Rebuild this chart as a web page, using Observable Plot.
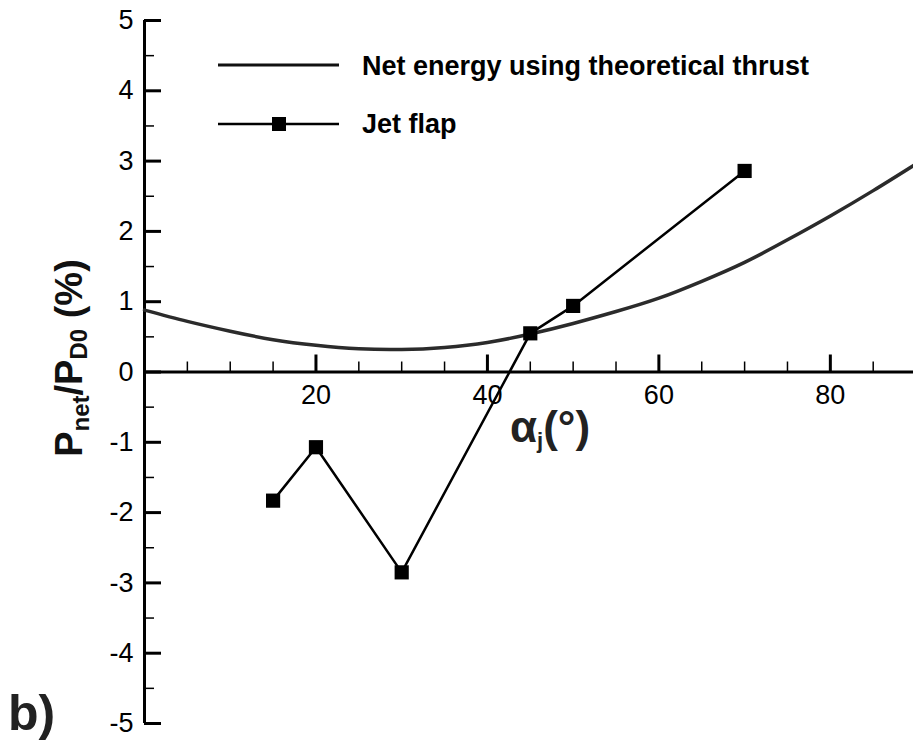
<!DOCTYPE html>
<html>
<head>
<meta charset="utf-8">
<script src="https://cdn.jsdelivr.net/npm/d3@7"></script>
<script src="https://cdn.jsdelivr.net/npm/@observablehq/plot@0.6"></script>
<style>
  html, body { margin: 0; padding: 0; background: #fff; }
  #chart svg { display: block; }
</style>
</head>
<body>
<div id="chart"></div>
<script>
// Theoretical net energy curve (alpha_j in degrees, Pnet/PD0 in %)
const theoryAlpha = [0, 5, 10, 15, 20, 25, 30, 35, 40, 45, 50, 55, 60, 65, 70, 75, 80, 85, 90];
const theoryValue = [0.88, 0.72, 0.58, 0.46, 0.38, 0.33, 0.32, 0.35, 0.42, 0.54, 0.69, 0.86, 1.05, 1.29, 1.56, 1.88, 2.22, 2.58, 2.96];

// Jet flap measured points
const jetAlpha = [15, 20, 30, 45, 50, 70];
const jetValue = [-1.83, -1.07, -2.85, 0.55, 0.94, 2.86];

// Ticks
const xMajorTicks = [20, 40, 60, 80];
const xMinorTicks = [5, 10, 15, 25, 30, 35, 45, 50, 55, 65, 70, 75, 85];
const yMajorTicks = [-5, -4, -3, -2, -1, 0, 1, 2, 3, 4, 5];
const yMinorTicks = [-4.5, -3.5, -2.5, -1.5, -0.5, 0.5, 1.5, 2.5, 3.5, 4.5];

const legendLabels = ["Net energy using theoretical thrust", "Jet flap"];

const theory = theoryAlpha.map((a, i) => ({a, v: theoryValue[i]}));
const jet = jetAlpha.map((a, i) => ({a, v: jetValue[i]}));

const FONT = "'Liberation Sans', Arial, Helvetica, sans-serif";

const plot = Plot.plot({
  width: 913,
  height: 746,
  marginLeft: 144,
  marginRight: 0,
  marginTop: 20,
  marginBottom: 23,
  style: {fontFamily: FONT, background: "#fff", overflow: "hidden"},
  x: {domain: [0, 89.7], axis: null},
  y: {domain: [-5, 5], axis: null},
  marks: [
    // axes lines
    Plot.ruleY([0], {stroke: "#000", strokeWidth: 3}),
    Plot.ruleX([0], {stroke: "#000", strokeWidth: 3}),
    // x ticks (pointing up from y = 0)
    Plot.ruleX(xMajorTicks, {x: d => d, y1: 0, y2: 0, insetTop: -17, stroke: "#000", strokeWidth: 3}),
    Plot.ruleX(xMinorTicks, {x: d => d, y1: 0, y2: 0, insetTop: -10, stroke: "#000", strokeWidth: 1.5}),
    // y ticks (pointing right from x = 0)
    Plot.ruleY(yMajorTicks, {y: d => d, x1: 0, x2: 0, insetRight: -17, stroke: "#000", strokeWidth: 3}),
    Plot.ruleY(yMinorTicks, {y: d => d, x1: 0, x2: 0, insetRight: -10, stroke: "#000", strokeWidth: 1.5}),
    // tick labels
    Plot.text(xMajorTicks, {x: d => d, y: 0, dy: 23, text: d => String(d), fontSize: 27, fill: "#000", fontFamily: FONT}),
    Plot.text(yMajorTicks, {x: 0, y: d => d, dx: -11, textAnchor: "end", text: d => String(d), fontSize: 27, fill: "#000", fontFamily: FONT}),
    // theoretical curve
    Plot.line(theory, {x: "a", y: "v", stroke: "#2b2b2b", strokeWidth: 3.5, curve: "natural"}),
    // jet flap
    Plot.line(jet, {x: "a", y: "v", stroke: "#000", strokeWidth: 2.5}),
    Plot.dot(jet, {x: "a", y: "v", symbol: "square", r: 8, fill: "#000", stroke: "none"})
  ]
});

document.getElementById("chart").appendChild(plot);

// Additional labels and legend
const svg = d3.select(plot);

// Legend
const leg = svg.append("g").attr("font-family", FONT).attr("text-anchor", "start");
leg.append("line").attr("x1", 218).attr("x2", 339).attr("y1", 65).attr("y2", 65)
  .attr("stroke", "#111").attr("stroke-width", 3);
leg.append("text").attr("x", 362).attr("y", 75).attr("font-size", 27).attr("font-weight", "bold")
  .attr("fill", "#000").text(legendLabels[0]);
leg.append("line").attr("x1", 218).attr("x2", 339).attr("y1", 124).attr("y2", 124)
  .attr("stroke", "#000").attr("stroke-width", 2.5);
leg.append("path").attr("d", d3.symbol(d3.symbolSquare, 196)()).attr("transform", "translate(279,124)")
  .attr("fill", "#000");
leg.append("text").attr("x", 362).attr("y", 133).attr("font-size", 27).attr("font-weight", "bold")
  .attr("fill", "#000").text(legendLabels[1]);

// x axis title: alpha_j (°)
const xt = svg.append("text").attr("x", 510).attr("y", 442).attr("font-family", FONT)
  .attr("text-anchor", "start")
  .attr("font-size", 44).attr("font-weight", "bold").attr("fill", "#222");
xt.append("tspan").text("α");
xt.append("tspan").attr("font-size", 22).attr("dy", 6).text("j");
xt.append("tspan").attr("dy", -6).text("(°)");

// y axis title: P_net / P_D0 (%)
const yt = svg.append("text").attr("transform", "translate(82,358) rotate(-90)")
  .attr("text-anchor", "middle").attr("font-family", FONT)
  .attr("font-size", 38).attr("font-weight", "bold").attr("fill", "#111");
yt.append("tspan").text("P");
yt.append("tspan").attr("font-size", 24).attr("dy", 7).text("net");
yt.append("tspan").attr("dy", -7).text("/P");
yt.append("tspan").attr("font-size", 24).attr("dy", 5).text("D0");
yt.append("tspan").attr("dy", -5).text(" (%)");

// panel label
svg.append("text").attr("x", 8).attr("y", 730).attr("font-family", FONT)
  .attr("text-anchor", "start")
  .attr("font-size", 50).attr("font-weight", "bold").attr("fill", "#222").text("b)");
</script>
</body>
</html>
